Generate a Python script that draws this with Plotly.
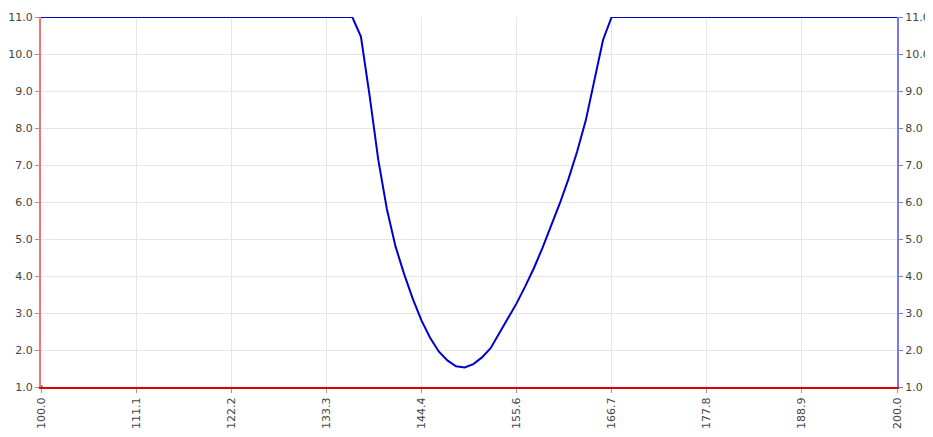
import numpy as np
import plotly.graph_objects as go

# sample positions: 100 evenly spaced points from 100 to 200
x_values = list(np.linspace(100, 200, 100))

# curve values (clamped at 11 outside the dip)
dip_values = [10.47, 8.88, 7.15, 5.81, 4.80, 4.05, 3.38, 2.80, 2.33, 1.96,
              1.72, 1.56, 1.53, 1.62, 1.80, 2.05, 2.45, 2.85, 3.26, 3.72,
              4.21, 4.76, 5.34, 5.96, 6.62, 7.36, 8.20, 9.25, 10.38]
y_values = [11.0] * 37 + dip_values + [11.0] * (100 - 37 - len(dip_values))

x_ticks = list(np.linspace(100, 200, 10))
x_ticktext = [f"{v:.1f}" for v in x_ticks]
y_ticks = list(range(1, 12))
y_ticktext = [f"{v:.1f}" for v in y_ticks]

marker_x = [100]
marker_y = [1]

fig = go.Figure()
fig.add_trace(go.Scatter(x=x_values, y=y_values, mode="lines",
                         line=dict(color="#0000cc", width=2), showlegend=False))
fig.add_trace(go.Scatter(x=marker_x, y=marker_y, mode="markers",
                         marker=dict(color="#44aa22", size=4), cliponaxis=False,
                         showlegend=False))
fig.add_trace(go.Scatter(x=[], y=[], yaxis="y2", showlegend=False))

font = dict(family="DejaVu Sans, Verdana, sans-serif", size=11, color="#444444")

fig.update_layout(
    width=933, height=437,
    margin=dict(l=33, r=44, t=9, b=58, autoexpand=False),
    paper_bgcolor="white", plot_bgcolor="white",
    font=font,
    xaxis=dict(range=[100, 200], tickvals=x_ticks, ticktext=x_ticktext,
               tickangle=-90, showgrid=True, gridcolor="#e6e6e6", gridwidth=1,
               showline=True, linecolor="#dd0000", linewidth=2,
               ticks="outside", ticklen=4, tickcolor="#999999",
               zeroline=False, tickfont=font, automargin=False),
    yaxis=dict(range=[1, 11], tickvals=y_ticks, ticktext=y_ticktext,
               showgrid=True, gridcolor="#e6e6e6", gridwidth=1,
               showline=True, linecolor="#ee7777", linewidth=2,
               ticks="outside", ticklen=4, tickcolor="#ee7777",
               zeroline=False, tickfont=font, automargin=False),
    yaxis2=dict(range=[1, 11], tickvals=y_ticks, ticktext=y_ticktext,
                overlaying="y", side="right", showgrid=False,
                showline=True, linecolor="#7777ee", linewidth=2,
                ticks="outside", ticklen=4, tickcolor="#7777ee",
                zeroline=False, tickfont=font, automargin=False),
)

fig.write_html("out.html")
